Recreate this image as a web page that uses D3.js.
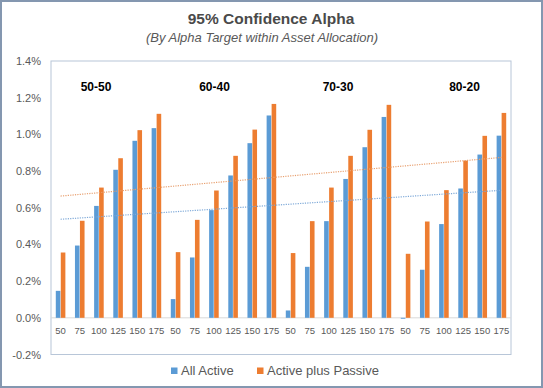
<!DOCTYPE html>
<html>
<head>
    <meta charset="UTF-8">
    <title>95% Confidence Alpha</title>
    <script src="https://d3js.org/d3.v7.min.js"></script>
    <style>
        body { margin: 0; background: #fff; }
        svg { display: block; font-family: "Liberation Sans", Arial, sans-serif; }
        .tick-label { fill: #595959; }
    </style>
</head>
<body>
    <svg id="chart" width="543" height="388"></svg>
    <script>

        // data (percent values)
        var groups = ["50-50", "60-40", "70-30", "80-20"];
        var targets = ["50", "75", "100", "125", "150", "175"];
        var allActive = [
            0.147, 0.394, 0.610, 0.807, 0.965, 1.034,
            0.102, 0.329, 0.587, 0.776, 0.952, 1.103,
            0.040, 0.278, 0.527, 0.757, 0.930, 1.095,
            -0.005, 0.262, 0.511, 0.705, 0.890, 0.993
        ];
        var activePassive = [
            0.356, 0.529, 0.710, 0.870, 1.023, 1.112,
            0.358, 0.534, 0.694, 0.883, 1.026, 1.166,
            0.353, 0.527, 0.710, 0.883, 1.025, 1.161,
            0.349, 0.525, 0.696, 0.857, 0.992, 1.117
        ];
        var yTicks = [-0.2, 0, 0.2, 0.4, 0.6, 0.8, 1.0, 1.2, 1.4];
        var seriesNames = ["All Active", "Active plus Passive"];
        var colors = ["#5b9bd5", "#ed7d31"];

        var svg = d3.select("#chart");
        var W = 543, H = 388;

        // outer frame
        svg.append("rect")
            .attr("x", 1).attr("y", 1)
            .attr("width", W - 2).attr("height", H - 2)
            .attr("fill", "#fff")
            .attr("stroke", "#8497b0")
            .attr("stroke-width", 2);

        // titles
        svg.append("text")
            .attr("x", 271).attr("y", 24)
            .attr("text-anchor", "middle")
            .style("font-size", "15.5px").style("font-weight", "bold")
            .style("fill", "#4a4a4a")
            .text("95% Confidence Alpha");
        svg.append("text")
            .attr("x", 262).attr("y", 42)
            .attr("text-anchor", "middle")
            .style("font-size", "13px").style("font-style", "italic")
            .style("fill", "#595959")
            .text("(By Alpha Target within Asset Allocation)");

        var plot = { left: 51, right: 511, top: 61, bottom: 354.5 };

        // one row per bar slot
        var rows = [];
        groups.forEach(function (g, gi) {
            targets.forEach(function (t, ti) {
                var i = gi * targets.length + ti;
                rows.push({ i: i, group: g, target: t, values: [allActive[i], activePassive[i]] });
            });
        });

        var x = d3.scaleBand()
            .domain(rows.map(function (d) { return d.i; }))
            .range([plot.left, plot.right])
            .paddingInner(0.5)
            .paddingOuter(0.25);

        var xs = d3.scaleBand()
            .domain([0, 1])
            .range([0, x.bandwidth()])
            .paddingInner(0.08);

        var y = d3.scaleLinear()
            .domain([-0.2, 1.4])
            .range([plot.bottom, plot.top]);

        // plot area border
        svg.append("rect")
            .attr("x", plot.left).attr("y", plot.top)
            .attr("width", plot.right - plot.left)
            .attr("height", plot.bottom - plot.top)
            .attr("fill", "none")
            .attr("stroke", "#b8c6d8")
            .attr("stroke-width", 1);

        // y axis labels
        svg.append("g").selectAll("text")
            .data(yTicks)
            .enter().append("text")
            .attr("class", "tick-label")
            .attr("x", 41)
            .attr("y", function (d) { return y(d) + 4; })
            .attr("text-anchor", "end")
            .style("font-size", "11px")
            .text(function (d) { return d.toFixed(1) + "%"; });

        // zero line
        svg.append("line")
            .attr("x1", plot.left).attr("x2", plot.right)
            .attr("y1", y(0)).attr("y2", y(0))
            .attr("stroke", "#d9d9d9")
            .attr("stroke-width", 1);

        // bars
        var slot = svg.append("g").selectAll("g")
            .data(rows)
            .enter().append("g")
            .attr("transform", function (d) { return "translate(" + x(d.i) + ",0)"; });

        slot.selectAll("rect")
            .data(function (d) { return d.values.map(function (v, k) { return { k: k, v: v }; }); })
            .enter().append("rect")
            .attr("x", function (d) { return xs(d.k); })
            .attr("width", xs.bandwidth())
            .attr("y", function (d) { return y(Math.max(0, d.v)); })
            .attr("height", function (d) { return Math.abs(y(d.v) - y(0)); })
            .attr("fill", function (d) { return colors[d.k]; });

        // x axis labels
        svg.append("g").selectAll("text")
            .data(rows)
            .enter().append("text")
            .attr("class", "tick-label")
            .attr("x", function (d) { return x(d.i) + x.bandwidth() / 2; })
            .attr("y", 333.5)
            .attr("text-anchor", "middle")
            .style("font-size", "9.5px")
            .text(function (d) { return d.target; });

        // linear trend lines (least squares over slot index)
        function trend(vals) {
            var n = vals.length;
            var mx = d3.mean(vals, function (v, i) { return i; });
            var my = d3.mean(vals);
            var num = d3.sum(vals, function (v, i) { return (i - mx) * (v - my); });
            var den = d3.sum(vals, function (v, i) { return (i - mx) * (i - mx); });
            var b = num / den;
            return [[0, my - b * mx], [n - 1, my + b * (n - 1 - mx)]];
        }
        var trendColors = ["#7ea9d8", "#e8a070"];
        [allActive, activePassive].forEach(function (vals, k) {
            var pts = trend(vals);
            svg.append("line")
                .attr("x1", x(pts[0][0]) + x.bandwidth() / 2)
                .attr("y1", y(pts[0][1]))
                .attr("x2", x(pts[1][0]) + x.bandwidth() / 2)
                .attr("y2", y(pts[1][1]))
                .attr("stroke", trendColors[k])
                .attr("stroke-width", 1.2)
                .attr("stroke-dasharray", "1.2,1.2");
        });

        // group labels
        var labelShift = [-12.5, -9, -0.5, 11];
        svg.append("g").selectAll("text")
            .data(groups)
            .enter().append("text")
            .attr("x", function (g, gi) {
                var a = x(gi * 6), b = x(gi * 6 + 5) + x.bandwidth();
                return (a + b) / 2 + labelShift[gi];
            })
            .attr("y", 91)
            .attr("text-anchor", "middle")
            .style("font-size", "12px").style("font-weight", "bold")
            .style("fill", "#000")
            .text(function (g) { return g; });

        // legend
        var legendX = [171, 257];
        var legend = svg.append("g").selectAll("g")
            .data(seriesNames)
            .enter().append("g")
            .attr("transform", function (d, k) { return "translate(" + legendX[k] + ",367.5)"; });
        legend.append("rect")
            .attr("width", 6.5).attr("height", 6.5)
            .attr("fill", function (d, k) { return colors[k]; });
        legend.append("text")
            .attr("x", 10).attr("y", 7.5)
            .style("font-size", "13px")
            .style("fill", "#595959")
            .text(function (d) { return d; });

    </script>
</body>
</html>
